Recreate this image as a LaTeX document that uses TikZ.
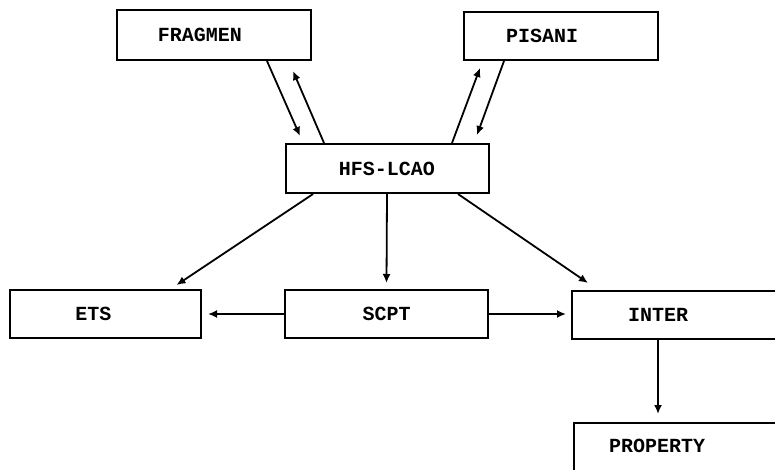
\documentclass[tikz,border=0pt]{standalone}
\usepackage{fontspec}
\setmonofont{Liberation Mono}
\usetikzlibrary{arrows.meta}

\begin{document}
\begin{tikzpicture}[
x=1pt, y=-1pt,
prog/.style={draw, line width=2pt, minimum height=48pt, inner sep=0pt},
plabel/.style={font=\ttfamily\bfseries\fontsize{20}{22}\selectfont},
arr/.style={line width=1.8pt, -{Latex[length=9pt,width=8pt]}}
]
% ---- 画布 ----
\useasboundingbox (0,0) rectangle (775,470);
\clip (0,0) rectangle (775,470);

% ---- 程序框 ----
\node[prog, minimum width=194pt, minimum height=50pt,
      label={[plabel, xshift=-14pt]center:FRAGMEN}] (frag) at (214,35) {};
\node[prog, minimum width=194pt,
      label={[plabel, xshift=-19pt]center:PISANI}] (pisani) at (561,36) {};
\node[prog, minimum width=203pt, minimum height=49pt,
      label={[plabel]center:HFS-LCAO}] (hfs) at (387,168.5) {};
\node[prog, minimum width=191pt,
      label={[plabel, xshift=-12pt]center:ETS}] (ets) at (105.5,314) {};
\node[prog, minimum width=203pt,
      label={[plabel]center:SCPT}] (scpt) at (386.5,314) {};
\node[prog, minimum width=240pt,
      label={[plabel, xshift=-34pt]center:INTER}] (inter) at (692,315) {};
\node[prog, minimum width=240pt, minimum height=80pt,
      label={[plabel, xshift=-37pt, yshift=17pt]center:PROPERTY}] (prop) at (694,463) {};

% ---- FRAGMEN <-> HFS-LCAO ----
\draw[arr] ([xshift=53pt]frag.south) -- ([xshift=-87pt,yshift=7pt]hfs.north);
\draw[arr] ([xshift=-63pt]hfs.north) -- ([xshift=79pt,yshift=-10pt]frag.south);

% ---- PISANI <-> HFS-LCAO ----
\draw[arr] ([xshift=65pt]hfs.north) -- ([xshift=-81pt,yshift=-7pt]pisani.south);
\draw[arr] ([xshift=-57pt]pisani.south) -- ([xshift=90pt,yshift=8pt]hfs.north);

% ---- HFS-LCAO 向下 ----
\draw[arr] ([xshift=-74pt]hfs.south) -- ([xshift=71pt,yshift=4pt]ets.north);
\draw[arr] (hfs.south) -- ([yshift=6pt]scpt.north);
\draw[arr] ([xshift=71pt]hfs.south) -- ([xshift=-104pt,yshift=7pt]inter.north);

% ---- SCPT 两侧 ----
\draw[arr] (scpt.west) -- ([xshift=6pt]ets.east);
\draw[arr] (scpt.east) -- ([xshift=-5pt,yshift=1pt]inter.west);

% ---- INTER -> PROPERTY ----
\draw[arr] ([xshift=-34pt]inter.south) -- ([xshift=-36pt,yshift=8pt]prop.north);
\end{tikzpicture}
\end{document}
